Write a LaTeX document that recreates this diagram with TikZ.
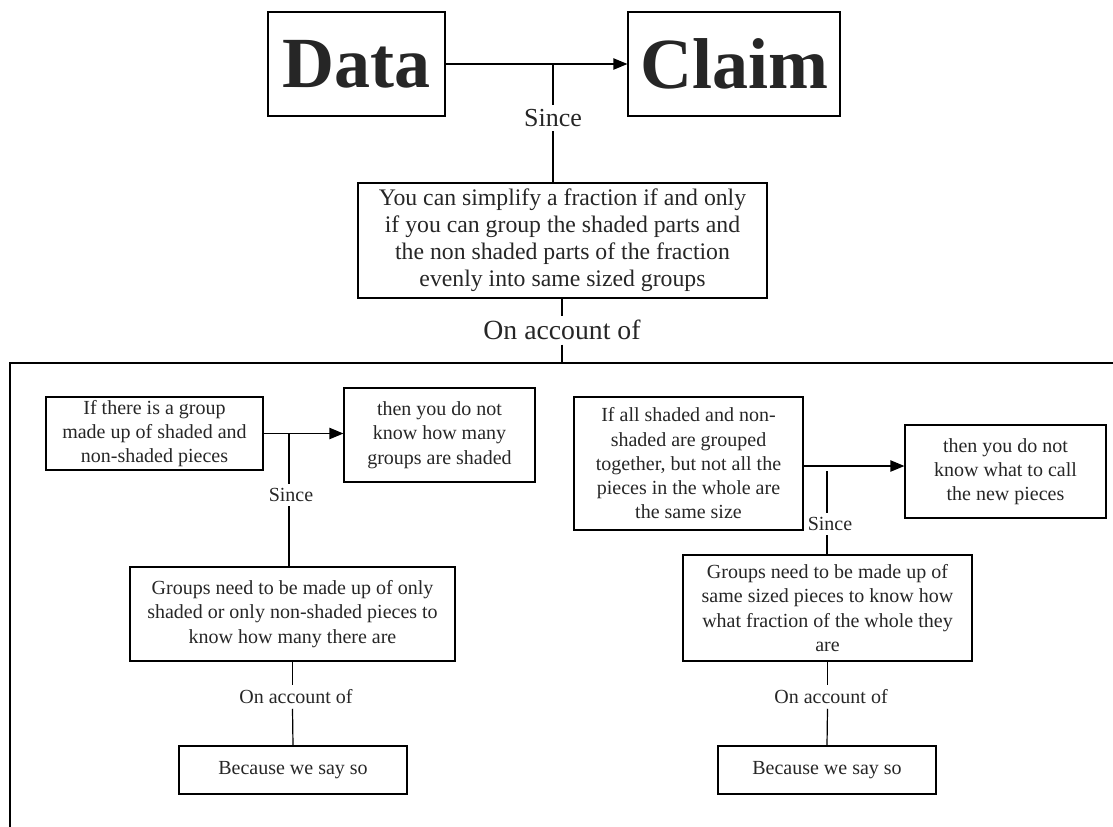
\documentclass[tikz,border=0pt]{standalone}
\usepackage{fontspec}
\setmainfont{Liberation Serif}
\usetikzlibrary{arrows.meta}
\begin{document}
\begin{tikzpicture}[x=0.75pt,y=-0.75pt,
  line width=0.9pt,
  box/.style={draw, inner sep=0pt, align=center, text=black!85},
  lbl/.style={inner sep=3pt, align=center, text=black!85},
  arr/.style={-{Triangle[length=10.5pt,width=8.5pt]}},
  pf/.style={font=\fontsize{15}{18.2}\selectfont},
  big/.style={font=\bfseries\fontsize{54}{60}\selectfont},
]
\useasboundingbox (0,0) rectangle (1113,826);

% top level
\node[box, big, minimum width=132.75pt, minimum height=78pt] (data) at (356.5,64) {Data};
\node[box, big, minimum width=159pt, minimum height=78pt] (claim) at (734,64) {Claim};
\node[box, minimum width=306.75pt, minimum height=86.25pt, font=\fontsize{17.8}{20.3}\selectfont] (desc) at (562.5,240.5)
  {You can simplify a fraction if and only\\ if you can group the shaded parts and\\ the non shaded parts of the fraction\\ evenly into same sized groups};
\node[lbl, font=\fontsize{19.5}{22}\selectfont] (since0) at (553,118) {Since};
\node[lbl, font=\fontsize{20.8}{24}\selectfont] (acc0) at (562,330) {On account of};

\draw[arr] (data.east) -- (claim.west);
\coordinate (t0) at (553,64);
\draw (t0) -- (since0.north);
\draw (since0.south) -- (since0.south |- desc.north);
\draw (desc.south -| acc0.north) -- (acc0.north);
\coordinate (bigtl) at (10,363);
\coordinate (bigtr) at (1125,363);
\coordinate (bigbl) at (10,840);
\draw (acc0.south) -- (acc0.south |- bigtl);
\draw (bigtr) -- (bigtl) -- (bigbl);

% left panel
\node[box, pf, minimum width=162.75pt, minimum height=54.75pt] (a1) at (154.5,433.5)
  {If there is a group\\ made up of shaded and\\ non-shaded pieces};
\node[box, pf, minimum width=143.25pt, minimum height=70.5pt] (a2) at (439.5,435)
  {then you do not\\ know how many\\ groups are shaded};
\node[box, pf, minimum width=243.75pt, minimum height=70.5pt] (a3) at (292.5,614)
  {Groups need to be made up of only\\ shaded or only non-shaded pieces to\\ know how many there are};
\node[box, pf, minimum width=171pt, minimum height=36pt] (a4) at (293,770) {Because we say so};
\node[lbl, pf] (sinceL) at (291,495) {Since};
\node[lbl, pf] (accL) at (296,697) {On account of};

\draw[arr] (a1.east) -- (a1.east -| a2.west);
\coordinate (tL) at (289,433.5);
\draw (tL) -- (tL |- sinceL.north);
\draw (tL |- sinceL.south) -- (tL |- a3.north);
\draw (a3.south) -- (a3.south |- accL.north);
\draw (a3.south |- accL.south) -- (a4.north);

% right panel
\node[box, pf, minimum width=171.75pt, minimum height=99.75pt] (b1) at (688.5,463.5)
  {If all shaded and non-\\ shaded are grouped\\ together, but not all the\\ pieces in the whole are\\ the same size};
\node[box, pf, minimum width=150.75pt, minimum height=69.75pt] (b2) at (1005.5,471.5)
  {then you do not\\ know what to call\\ the new pieces};
\node[box, pf, minimum width=216.75pt, minimum height=79.5pt] (b3) at (827.5,608)
  {Groups need to be made up of\\ same sized pieces to know how\\ what fraction of the whole they\\ are};
\node[box, pf, minimum width=163.5pt, minimum height=36pt] (b4) at (827,770) {Because we say so};
\node[lbl, pf] (sinceR) at (830,524) {Since};
\node[lbl, pf] (accR) at (831,697) {On account of};

\draw[arr] (b1.east |- 0,466) coordinate (bo) -- (bo -| b2.west);
\coordinate (tR) at (827,471);
\draw (tR) -- (tR |- sinceR.north);
\draw (tR |- sinceR.south) -- (tR |- b3.north);
\draw (b3.south) -- (b3.south |- accR.north);
\draw (b3.south |- accR.south) -- (b4.north);
\end{tikzpicture}
\end{document}
